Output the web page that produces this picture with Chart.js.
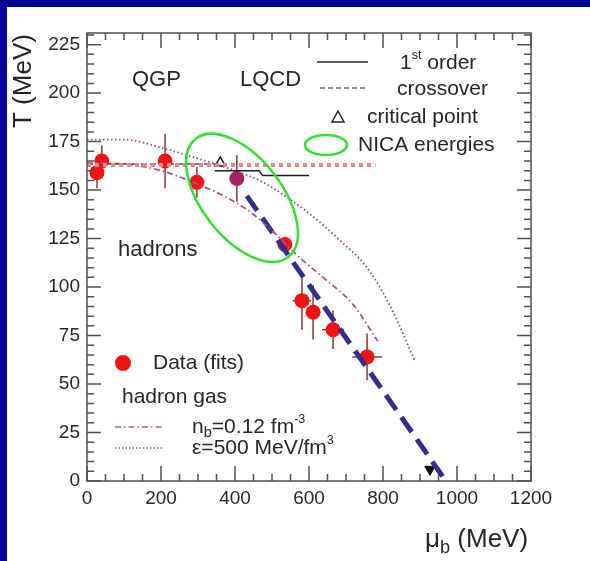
<!DOCTYPE html>
<html lang="en">
<head>
    <meta charset="UTF-8">
    <title>QCD phase diagram - NICA energies</title>
    <script src="https://cdn.jsdelivr.net/npm/chart.js"></script>
    <style>
        body {
            margin: 0;
            background: #fff;
        }
        .frame {
            width: 583px;
            height: 554px;
            border-top: 7px solid #00008c;
            border-left: 7px solid #06069c;
            background: #fff;
        }
        canvas { display: block; }
    </style>
</head>
<body>
    <div class="frame">
        <canvas id="phaseChart" width="583" height="554"></canvas>
    </div>

    <script>
        // freeze-out fits (Data)
        const muData = [27, 40, 211, 297, 405, 535, 581, 611, 665, 757];
        const tData  = [159, 165, 165, 154, 156, 122, 93, 87, 78, 64];
        const tErr   = [8, 8, 14, 8, 12, 4, 15, 14, 10, 12];
        const muErr  = [0, 0, 0, 20, 0, 0, 25, 20, 30, 40];

        // LQCD band (red dotted)
        const lqcdMu = [0, 780];
        const lqcdT  = [163, 163];

        // crossover (thin dashed) up to critical point
        const crossMu = [0, 360];
        const crossT  = [163.5, 163.5];

        // 1st order line
        const firstMu = [345, 465, 475, 600];
        const firstT  = [160, 160, 157.5, 157.5];

        // critical point
        const critMu = [360];
        const critT  = [164];

        // hadron gas: n_b = 0.12 fm^-3 (dash-dot)
        const nbMu = [0, 100, 200, 300, 359, 432, 495, 576, 638, 719, 786];
        const nbT  = [164, 163.5, 160, 153, 148, 140, 130, 115, 105, 91, 72];

        // hadron gas: eps = 500 MeV/fm^3 (dotted)
        const epsMu = [0, 100, 216, 270, 400, 476, 600, 684, 757, 820, 886];
        const epsT  = [176, 176, 171, 168, 160, 154, 138, 124, 110, 90, 62];

        // thick dashed crossover line down to the mu axis
        const extMu = [432, 970];
        const extT  = [147, 0];

        // nuclear matter marker
        const nucMu = [927];
        const nucT  = [6];

        // NICA ellipse centre
        const nicaMu = 419;
        const nicaT  = 146;

        const xTickLabels = [0, 200, 400, 600, 800, 1000, 1200];
        const yTickLabels = [0, 25, 50, 75, 100, 125, 150, 175, 200, 225];

        const FONT = '"Liberation Sans", Arial, sans-serif';
        const INK = '#262626';
        const DATA_IDX = 8;

        const pts = (xs, ys) => xs.map((x, i) => ({ x: x, y: ys[i] }));

        function rich(ctx, x, y, parts, size) {
            // parts: [text, 'sup' | 'sub' | undefined]
            parts.forEach(p => {
                let s = size, dy = 0;
                if (p[1] === 'sup') { s = size * 0.6; dy = -size * 0.38; }
                if (p[1] === 'sub') { s = size * 0.7; dy = size * 0.3; }
                ctx.font = s + 'px ' + FONT;
                ctx.fillText(p[0], x, y + dy);
                x += ctx.measureText(p[0]).width;
            });
        }

        const decorations = {
            id: 'decorations',
            beforeDatasetDraw(chart, args) {
                if (args.index !== DATA_IDX) return;
                const { ctx, scales: { x, y } } = chart;
                ctx.save();
                ctx.strokeStyle = '#8c3535';
                ctx.lineWidth = 1.5;
                muData.forEach((m, i) => {
                    const px = x.getPixelForValue(m);
                    const py = y.getPixelForValue(tData[i]);
                    ctx.beginPath();
                    ctx.moveTo(px, y.getPixelForValue(tData[i] - tErr[i]));
                    ctx.lineTo(px, y.getPixelForValue(tData[i] + tErr[i]));
                    if (muErr[i]) {
                        ctx.moveTo(x.getPixelForValue(m - muErr[i]), py);
                        ctx.lineTo(x.getPixelForValue(m + muErr[i]), py);
                    }
                    ctx.stroke();
                });
                ctx.restore();
            },
            afterDatasetsDraw(chart) {
                const { ctx, scales: { x, y } } = chart;
                ctx.save();
                ctx.strokeStyle = '#33e033';
                ctx.lineWidth = 2.5;
                ctx.beginPath();
                ctx.ellipse(x.getPixelForValue(nicaMu), y.getPixelForValue(nicaT), 75, 40, 52 * Math.PI / 180, 0, Math.PI * 2);
                ctx.stroke();
                ctx.restore();
            },
            afterDraw(chart) {
                const { ctx, chartArea: a, scales: { x, y } } = chart;
                ctx.save();

                // frame and inward ticks on all four sides
                ctx.strokeStyle = '#505050';
                ctx.lineWidth = 1.5;
                ctx.strokeRect(a.left, a.top, a.right - a.left, a.bottom - a.top);
                ctx.beginPath();
                y.ticks.forEach(t => {
                    const py = y.getPixelForValue(t.value);
                    const len = t.value % 25 === 0 ? 14 : 7;
                    ctx.moveTo(a.left, py); ctx.lineTo(a.left + len, py);
                    ctx.moveTo(a.right, py); ctx.lineTo(a.right - len, py);
                });
                x.ticks.forEach(t => {
                    const px = x.getPixelForValue(t.value);
                    const len = t.value % 200 === 0 ? 15 : 7;
                    ctx.moveTo(px, a.bottom); ctx.lineTo(px, a.bottom - len);
                    ctx.moveTo(px, a.top); ctx.lineTo(px, a.top + len);
                });
                ctx.stroke();

                ctx.fillStyle = INK;
                ctx.textBaseline = 'middle';
                ctx.textAlign = 'left';

                // region labels
                ctx.font = '22px ' + FONT;
                ctx.fillText('QGP', 125, 73);
                ctx.fillText('LQCD', 233, 73);
                ctx.fillText('hadrons', 111, 243);

                // upper legend
                ctx.strokeStyle = '#222';
                ctx.lineWidth = 1.5;
                ctx.beginPath(); ctx.moveTo(310, 55); ctx.lineTo(361, 55); ctx.stroke();
                rich(ctx, 393, 56, [['1'], ['st', 'sup'], [' order']], 21);

                ctx.strokeStyle = '#666680';
                ctx.setLineDash([5, 3]);
                ctx.beginPath(); ctx.moveTo(313, 81); ctx.lineTo(361, 81); ctx.stroke();
                ctx.setLineDash([]);
                rich(ctx, 390, 82, [['crossover']], 21);

                ctx.strokeStyle = '#222';
                ctx.beginPath();
                ctx.moveTo(331, 104); ctx.lineTo(337, 115); ctx.lineTo(325, 115); ctx.closePath();
                ctx.stroke();
                rich(ctx, 360, 110, [['critical point']], 21);

                ctx.strokeStyle = '#33e033';
                ctx.lineWidth = 2.5;
                ctx.beginPath(); ctx.ellipse(319, 138, 21, 10, 0, 0, Math.PI * 2); ctx.stroke();
                rich(ctx, 351, 138, [['NICA energies']], 21);

                // lower legend
                ctx.fillStyle = '#ee1515';
                ctx.beginPath(); ctx.arc(116, 356, 8, 0, Math.PI * 2); ctx.fill();
                ctx.fillStyle = INK;
                rich(ctx, 146, 356, [['Data (fits)']], 21);
                rich(ctx, 115, 390, [['hadron gas']], 21);

                ctx.lineWidth = 1.5;
                ctx.strokeStyle = '#b06090';
                ctx.setLineDash([6, 3, 1.5, 3]);
                ctx.beginPath(); ctx.moveTo(108, 420); ctx.lineTo(155, 420); ctx.stroke();
                ctx.strokeStyle = '#8a5a9a';
                ctx.setLineDash([1.5, 2]);
                ctx.beginPath(); ctx.moveTo(108, 441); ctx.lineTo(155, 441); ctx.stroke();
                ctx.setLineDash([]);
                rich(ctx, 185, 420, [['n'], ['b', 'sub'], ['=0.12 fm'], ['-3', 'sup']], 21);
                rich(ctx, 185, 441, [['\u03b5=500 MeV/fm'], ['3', 'sup']], 21);

                // axis titles
                rich(ctx, 418, 533, [['\u03bc'], ['b', 'sub'], [' (MeV)']], 26);
                ctx.translate(17, 121);
                ctx.rotate(-Math.PI / 2);
                rich(ctx, 0, 0, [['T (MeV)']], 26);

                ctx.restore();
            }
        };

        const lineDs = (label, xs, ys, color, width, dash) => ({
            label: label,
            data: pts(xs, ys),
            showLine: true,
            borderColor: color,
            borderWidth: width,
            borderDash: dash,
            pointRadius: 0,
            tension: 0.4,
            cubicInterpolationMode: 'monotone',
            fill: false
        });

        new Chart(document.getElementById('phaseChart').getContext('2d'), {
            type: 'scatter',
            data: {
                datasets: [
                    lineDs('LQCD', lqcdMu, lqcdT, '#e98585', 4, [4, 4]),
                    lineDs('crossover', crossMu, crossT, '#555', 1.5, [6, 3]),
                    Object.assign(lineDs('1st order', firstMu, firstT, '#1a1a2a', 1.5, []), { tension: 0, cubicInterpolationMode: 'default' }),
                    lineDs('eps=500', epsMu, epsT, '#8a4a9a', 1.8, [1.5, 2.5]),
                    lineDs('nb=0.12', nbMu, nbT, '#b0508f', 1.8, [6, 3, 1.5, 3]),
                    lineDs('crossover ext', extMu, extT, '#30308c', 5, [18, 9]),
                    {
                        label: 'critical point',
                        data: pts(critMu, critT),
                        pointStyle: 'triangle',
                        pointRadius: 6,
                        borderColor: '#111',
                        borderWidth: 1.5,
                        backgroundColor: 'rgba(0,0,0,0)'
                    },
                    {
                        label: 'nuclear matter',
                        data: pts(nucMu, nucT),
                        pointStyle: 'triangle',
                        rotation: 180,
                        pointRadius: 6,
                        borderColor: '#111',
                        backgroundColor: '#111'
                    },
                    {
                        label: 'Data (fits)',
                        data: pts(muData, tData),
                        pointRadius: 7.5,
                        borderWidth: 0,
                        backgroundColor: muData.map((m, i) => i === 4 ? '#a8205c' : '#ee1515')
                    }
                ]
            },
            options: {
                responsive: false,
                animation: false,
                layout: { padding: { top: 26, right: 59, left: 0, bottom: 0 } },
                plugins: {
                    legend: { display: false },
                    tooltip: { enabled: false }
                },
                scales: {
                    x: {
                        type: 'linear',
                        min: 0,
                        max: 1200,
                        afterFit: s => { s.height = 80; },
                        grid: { display: false, drawTicks: false },
                        border: { display: false },
                        ticks: {
                            stepSize: 50,
                            autoSkip: false,
                            maxRotation: 0,
                            padding: 6,
                            color: INK,
                            font: { family: FONT, size: 19 },
                            callback: v => xTickLabels.includes(v) ? v : ''
                        }
                    },
                    y: {
                        type: 'linear',
                        min: 0,
                        max: 231,
                        afterFit: s => { s.width = 80; },
                        grid: { display: false, drawTicks: false },
                        border: { display: false },
                        ticks: {
                            stepSize: 5,
                            includeBounds: false,
                            autoSkip: false,
                            padding: 7,
                            color: INK,
                            font: { family: FONT, size: 19 },
                            callback: v => yTickLabels.includes(v) ? v : ''
                        }
                    }
                }
            },
            plugins: [decorations]
        });
    </script>
</body>
</html>
